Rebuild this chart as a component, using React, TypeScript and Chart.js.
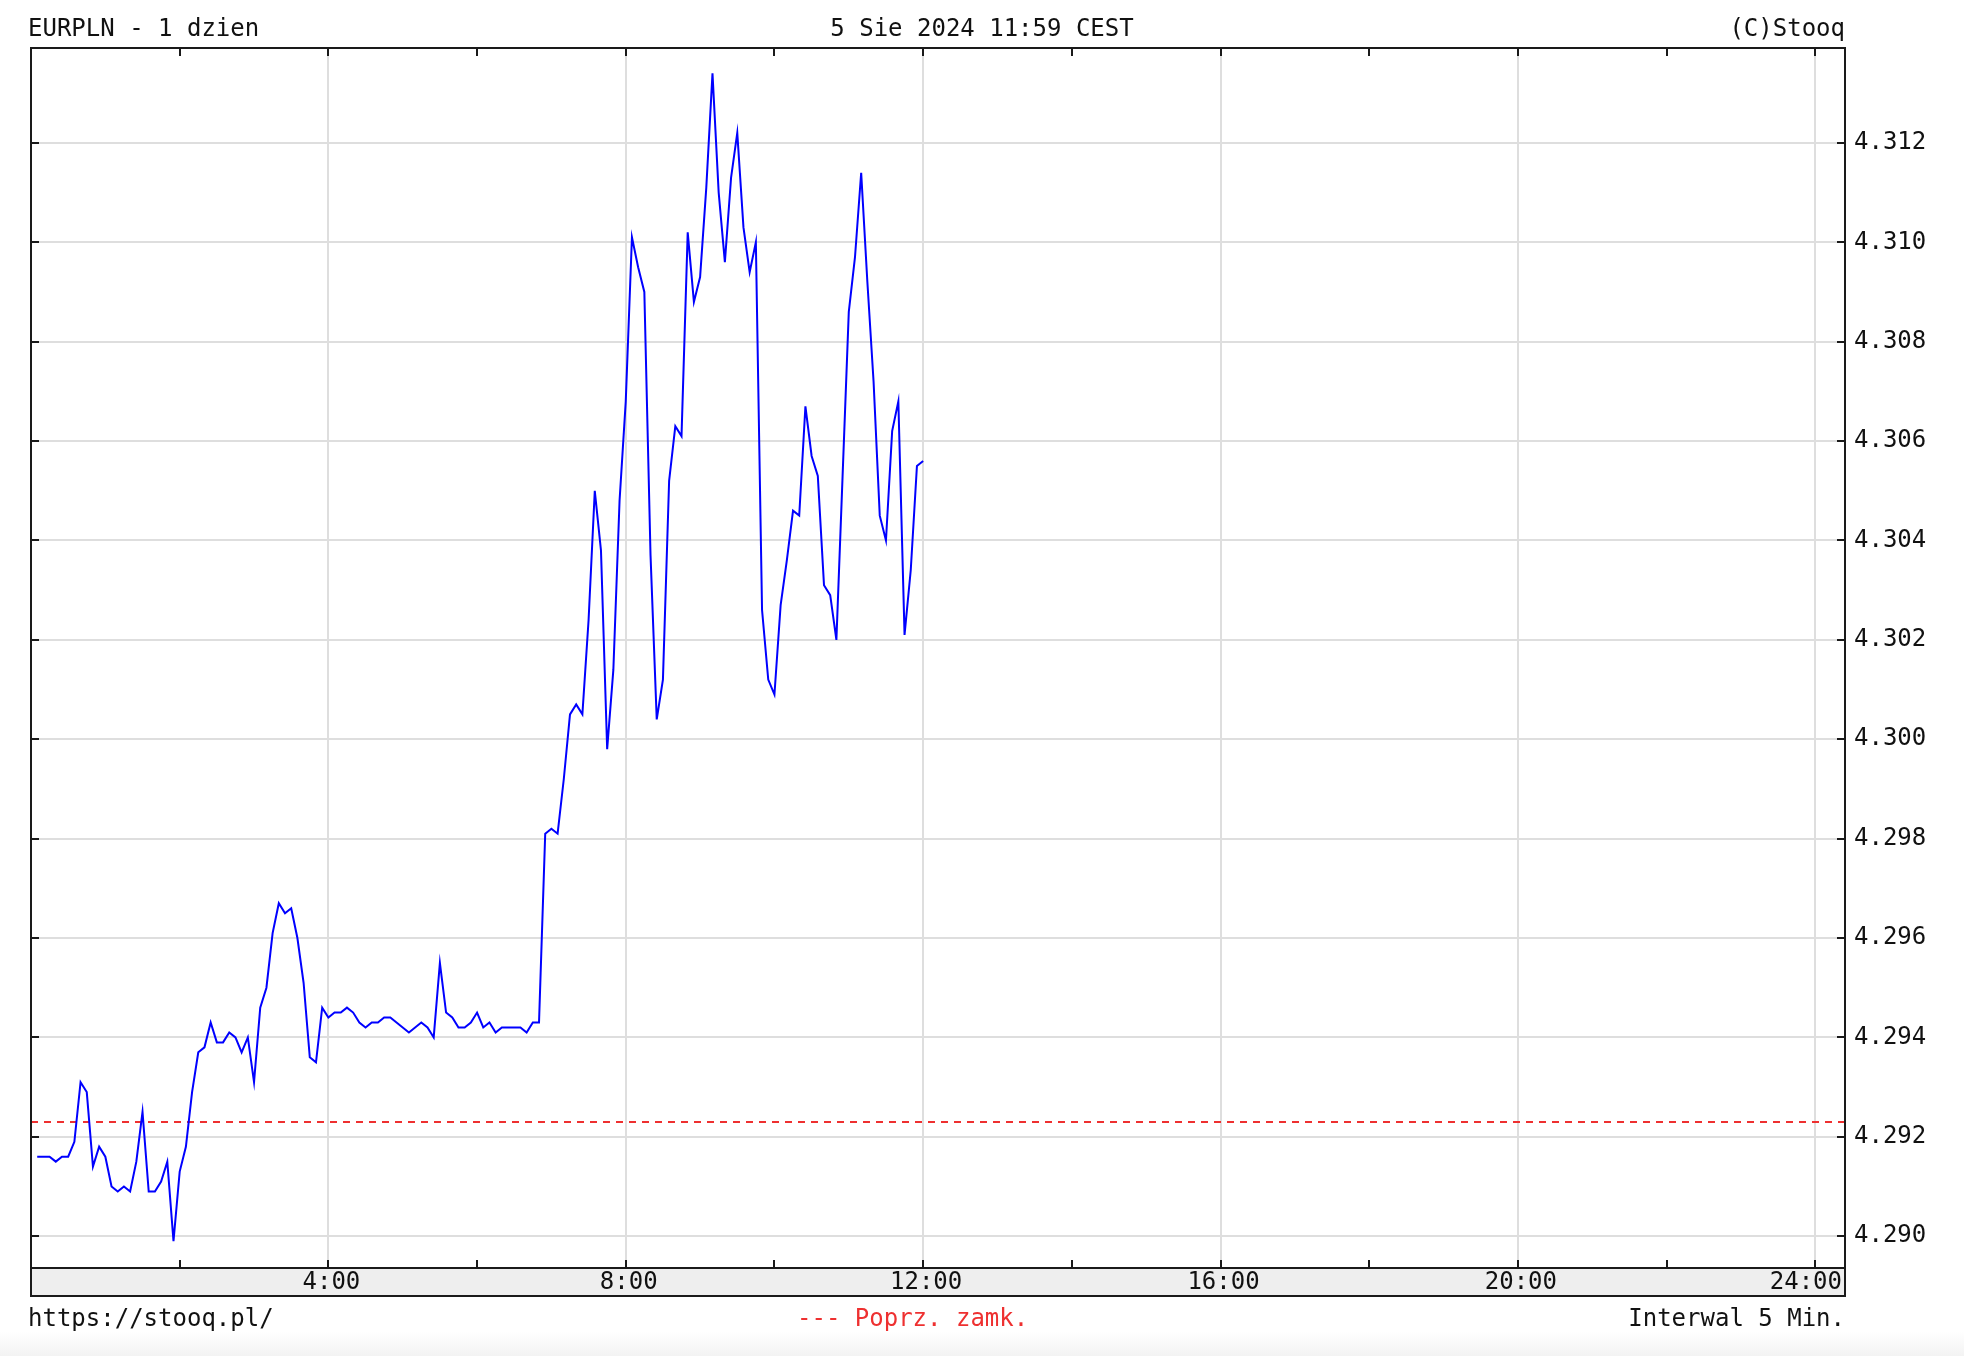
import { useEffect, useRef } from "react";
import { Chart, registerables } from "chart.js";

Chart.register(...registerables);

// ---- data ----
const startMinute = 5; // first quote at 0:05
const stepMinutes = 5; // "Interwal 5 Min."
const prices = [
  4.2916, 4.2916, 4.2916, 4.2915, 4.2916, 4.2916, 4.2919, 4.2931, 4.2929, 4.2914,
  4.2918, 4.2916, 4.2910, 4.2909, 4.2910, 4.2909, 4.2915, 4.2925, 4.2909, 4.2909,
  4.2911, 4.2915, 4.2899, 4.2913, 4.2918, 4.2929, 4.2937, 4.2938, 4.2943, 4.2939,
  4.2939, 4.2941, 4.2940, 4.2937, 4.2940, 4.2931, 4.2946, 4.2950, 4.2961, 4.2967,
  4.2965, 4.2966, 4.2960, 4.2951, 4.2936, 4.2935, 4.2946, 4.2944, 4.2945, 4.2945,
  4.2946, 4.2945, 4.2943, 4.2942, 4.2943, 4.2943, 4.2944, 4.2944, 4.2943, 4.2942,
  4.2941, 4.2942, 4.2943, 4.2942, 4.2940, 4.2955, 4.2945, 4.2944, 4.2942, 4.2942,
  4.2943, 4.2945, 4.2942, 4.2943, 4.2941, 4.2942, 4.2942, 4.2942, 4.2942, 4.2941,
  4.2943, 4.2943, 4.2981, 4.2982, 4.2981, 4.2992, 4.3005, 4.3007, 4.3005, 4.3024,
  4.3050, 4.3038, 4.2998, 4.3014, 4.3048, 4.3068, 4.3101, 4.3095, 4.3090, 4.3037,
  4.3004, 4.3012, 4.3052, 4.3063, 4.3061, 4.3102, 4.3088, 4.3093, 4.3111, 4.3134,
  4.3110, 4.3096, 4.3113, 4.3122, 4.3103, 4.3094, 4.3100, 4.3026, 4.3012, 4.3009,
  4.3027, 4.3036, 4.3046, 4.3045, 4.3067, 4.3057, 4.3053, 4.3031, 4.3029, 4.3020,
  4.3053, 4.3086, 4.3097, 4.3114, 4.3092, 4.3072, 4.3045, 4.3040, 4.3062, 4.3068,
  4.3021, 4.3034, 4.3055, 4.3056,
];
const previousClose = 4.2923;

const xMinMinutes = 0;
const xMaxMinutes = 1464; // axis runs a little past 24:00
const xTickStep = 120; // tick marks every 2 h
const xLabelStep = 240; // labels + grid every 4 h
const yMin = 4.28936;
const yMax = 4.31391;
const yStep = 0.002;

const titleLeft = "EURPLN - 1 dzien";
const titleCenter = "5 Sie 2024 11:59 CEST";
const titleRight = "(C)Stooq";
const footerLeft = "https://stooq.pl/";
const footerLegend = "--- Poprz. zamk.";
const footerRight = "Interwal 5 Min.";

// ---- style ----
const W = 1964;
const H = 1356;
const BAND = 28;
const FAMILY = '"DejaVu Sans Mono", monospace';
const FONT = `24px ${FAMILY}`;
const TEXT = "#111111";
const RED = "#ee3030";
const GRID = "#dedede";
const FRAME = "#1a1a1a";

const stooqPlugin = {
  id: "stooqFrame",
  beforeDraw(chart: any) {
    const { ctx, chartArea } = chart;
    const { left, right, bottom } = chartArea;
    ctx.save();
    ctx.fillStyle = "#ffffff";
    ctx.fillRect(0, 0, chart.width, chart.height);
    const g = ctx.createLinearGradient(0, 1332, 0, chart.height);
    g.addColorStop(0, "#ffffff");
    g.addColorStop(1, "#f3f3f3");
    ctx.fillStyle = g;
    ctx.fillRect(0, 1332, chart.width, chart.height - 1332);
    ctx.fillStyle = "#eeeeee";
    ctx.fillRect(left, bottom, right - left, BAND);
    ctx.restore();
  },
  afterDraw(chart: any) {
    const { ctx, chartArea } = chart;
    const { left, right, top, bottom } = chartArea;
    const xs = chart.scales.x;
    const ys = chart.scales.y;
    ctx.save();
    ctx.strokeStyle = FRAME;
    ctx.lineWidth = 2;
    ctx.beginPath();
    xs.ticks.forEach((t: any) => {
      if (t.value <= xs.min || t.value >= xs.max) return;
      const px = Math.round(xs.getPixelForValue(t.value));
      ctx.moveTo(px, top);
      ctx.lineTo(px, top + 8);
      ctx.moveTo(px, bottom);
      ctx.lineTo(px, bottom - 8);
    });
    ys.ticks.forEach((t: any) => {
      const py = Math.round(ys.getPixelForValue(t.value));
      ctx.moveTo(left, py);
      ctx.lineTo(left + 8, py);
      ctx.moveTo(right, py);
      ctx.lineTo(right - 8, py);
    });
    ctx.stroke();
    ctx.strokeRect(left, top, right - left, bottom + BAND - top);
    ctx.beginPath();
    ctx.moveTo(left, bottom);
    ctx.lineTo(right, bottom);
    ctx.stroke();

    // x labels inside band
    ctx.font = FONT;
    ctx.fillStyle = TEXT;
    ctx.textBaseline = "middle";
    ctx.textAlign = "center";
    xs.ticks.forEach((t: any) => {
      if (t.value === 0 || t.value % xLabelStep !== 0) return;
      const label = `${t.value / 60}:00`;
      const w = ctx.measureText(label).width;
      let cx = xs.getPixelForValue(t.value) + 3;
      cx = Math.min(cx, right - 3 - w / 2);
      ctx.fillText(label, cx, bottom + BAND / 2 + 1);
    });

    // header
    const hy = 30;
    ctx.textAlign = "left";
    ctx.fillText(titleLeft, 28, hy);
    ctx.textAlign = "center";
    ctx.fillText(titleCenter, W / 2, hy);
    ctx.textAlign = "right";
    ctx.fillText(titleRight, right, hy);

    // footer
    const fy = 1320;
    ctx.textAlign = "left";
    ctx.fillText(footerLeft, 28, fy);
    ctx.fillStyle = RED;
    ctx.fillText(footerLegend, 797, fy);
    ctx.fillStyle = TEXT;
    ctx.textAlign = "right";
    ctx.fillText(footerRight, right, fy);
    ctx.restore();
  },
};

export default function App() {
  const ref = useRef<HTMLCanvasElement | null>(null);

  useEffect(() => {
    document.body.style.margin = "0";
    const canvas = ref.current;
    if (!canvas) return;
    const priceData = prices.map((p, i) => ({ x: startMinute + i * stepMinutes, y: p }));
    const closeData = [
      { x: xMinMinutes, y: previousClose },
      { x: xMaxMinutes, y: previousClose },
    ];
    const chart = new Chart(canvas, {
      type: "line",
      data: {
        datasets: [
          {
            label: "EURPLN",
            data: priceData,
            borderColor: "#0000ff",
            borderWidth: 2,
            pointRadius: 0,
            tension: 0,
            fill: false,
          },
          {
            label: "Poprz. zamk.",
            data: closeData,
            borderColor: RED,
            borderWidth: 2,
            borderDash: [7, 6],
            pointRadius: 0,
            fill: false,
          },
        ],
      },
      options: {
        responsive: false,
        animation: false,
        devicePixelRatio: 1,
        layout: { padding: { left: 31, top: 48, right: 0, bottom: 60 } },
        plugins: { legend: { display: false }, tooltip: { enabled: false } },
        scales: {
          x: {
            type: "linear",
            position: "bottom",
            min: xMinMinutes,
            max: xMaxMinutes,
            afterFit: (s: any) => {
              s.height = BAND;
            },
            ticks: { display: false, stepSize: xTickStep, includeBounds: false },
            grid: {
              drawTicks: false,
              lineWidth: 2,
              color: (c: any) =>
                c.tick && c.tick.value > 0 && c.tick.value % xLabelStep === 0 ? GRID : "rgba(0,0,0,0)",
            },
            border: { display: false },
          },
          y: {
            type: "linear",
            position: "right",
            min: yMin,
            max: yMax,
            afterFit: (s: any) => {
              s.width = W - 1845;
            },
            ticks: {
              stepSize: yStep,
              includeBounds: false,
              padding: 9,
              color: TEXT,
              font: { family: FAMILY, size: 24 },
              callback: (v: any) => Number(v).toFixed(3),
            },
            grid: { drawTicks: false, lineWidth: 2, color: GRID },
            border: { display: false },
          },
        },
      },
      plugins: [stooqPlugin],
    });
    return () => chart.destroy();
  }, []);

  return <canvas ref={ref} width={W} height={H} style={{ display: "block", width: W, height: H }} />;
}
